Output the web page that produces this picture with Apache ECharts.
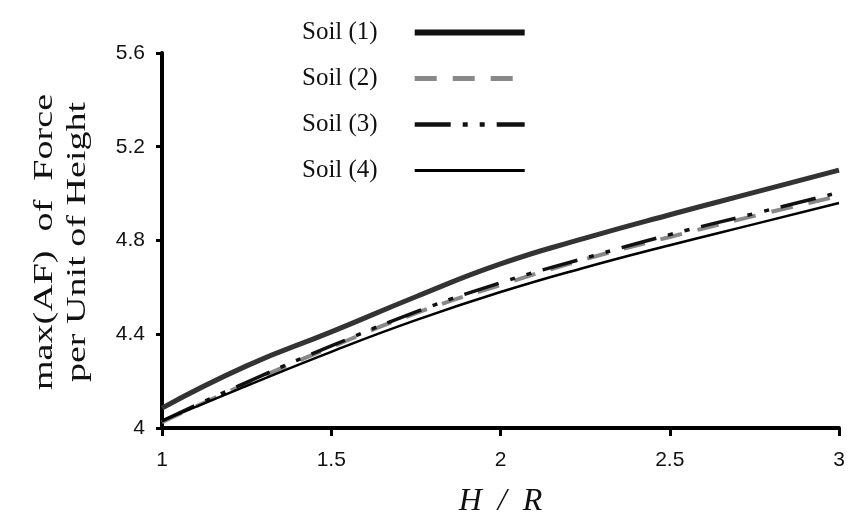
<!DOCTYPE html>
<html>
<head>
<meta charset="utf-8">
<script src="https://cdn.jsdelivr.net/npm/echarts@6/dist/echarts.min.js"></script>
<style>
  html, body { margin: 0; padding: 0; background: #fff; }
  #chart { width: 850px; height: 525px; }
</style>
</head>
<body>
<div id="chart"></div>
<script>
// H/R ratio sampled along the x axis
const ratios = [1, 1.25, 1.5, 1.75, 2, 2.25, 2.5, 2.75, 3];
// max(AF) of force per unit of height for each soil type
const soil1 = [4.085, 4.265, 4.41, 4.56, 4.70, 4.81, 4.91, 5.005, 5.10];
const soil2 = [4.025, 4.19, 4.345, 4.49, 4.61, 4.72, 4.815, 4.905, 4.99];
const soil3 = [4.03, 4.195, 4.35, 4.495, 4.62, 4.725, 4.825, 4.915, 5.005];
const soil4 = [4.03, 4.18, 4.325, 4.46, 4.58, 4.685, 4.78, 4.87, 4.96];
const seriesNames = ['Soil (1)', 'Soil (2)', 'Soil (3)', 'Soil (4)'];

const pairs = v => ratios.map((x, i) => [x, v[i]]);

const chart = echarts.init(document.getElementById('chart'));
const serif = '"Liberation Serif", "DejaVu Serif", serif';
const narrow = '"Liberation Sans Narrow", "Liberation Sans", Arial, sans-serif';

chart.setOption({
  animation: false,
  backgroundColor: '#fff',
  grid: { left: 162, right: 11, top: 53, bottom: 97 },
  legend: {
    orient: 'vertical',
    left: 297,
    top: 15,
    align: 'right',
    itemWidth: 110,
    itemHeight: 14,
    itemGap: 21,
    itemStyle: { opacity: 0 },
    textStyle: { fontFamily: serif, fontSize: 25, color: '#111', padding: [0, 32, 0, 0] },
    data: [
      { name: seriesNames[0], lineStyle: { width: 6, color: '#111' } },
      { name: seriesNames[1], lineStyle: { width: 5 } },
      { name: seriesNames[2], lineStyle: { width: 4.5 } },
      { name: seriesNames[3], lineStyle: { width: 3 } }
    ]
  },
  xAxis: {
    type: 'value',
    min: 1, max: 3, interval: 0.5,
    name: 'H  /  R',
    nameLocation: 'middle',
    nameGap: 58,
    nameTextStyle: { fontFamily: serif, fontStyle: 'italic', fontSize: 32, color: '#111' },
    axisLine: { lineStyle: { color: '#000', width: 4 } },
    axisTick: { show: true, length: 8, lineStyle: { color: '#000', width: 3 } },
    axisLabel: { fontFamily: narrow, fontSize: 21, color: '#111', margin: 22 },
    splitLine: { show: false }
  },
  yAxis: {
    type: 'value',
    min: 4, max: 5.6, interval: 0.4,
    axisLine: { show: true, lineStyle: { color: '#000', width: 4 } },
    axisTick: { show: true, length: 6, lineStyle: { color: '#000', width: 3 } },
    axisLabel: { fontFamily: narrow, fontSize: 21, color: '#111', margin: 17 },
    splitLine: { show: false }
  },
  graphic: [{
    type: 'text',
    x: 61, y: 242,
    rotation: Math.PI / 2,
    scaleX: 1.36,
    style: {
      text: 'max(AF)  of  Force\nper Unit of Height',
      font: '28px ' + serif,
      fill: '#111',
      align: 'center',
      verticalAlign: 'middle',
      lineHeight: 33
    }
  }],
  series: [
    {
      name: seriesNames[0], type: 'line', data: pairs(soil1), smooth: true,
      symbol: 'none', z: 4,
      color: '#333',
      lineStyle: { color: '#333', width: 5 }
    },
    {
      name: seriesNames[1], type: 'line', data: pairs(soil2), smooth: true,
      symbol: 'none', z: 3,
      color: '#888',
      lineStyle: { color: '#888', width: 4, type: [22, 16] }
    },
    {
      name: seriesNames[2], type: 'line', data: pairs(soil3), smooth: true,
      symbol: 'none', z: 3,
      color: '#111',
      lineStyle: { color: '#111', width: 3.5, type: [36, 12, 5, 12, 5, 12] }
    },
    {
      name: seriesNames[3], type: 'line', data: pairs(soil4), smooth: true,
      symbol: 'none', z: 5,
      color: '#000',
      lineStyle: { color: '#000', width: 2.5 }
    }
  ]
});
</script>
</body>
</html>
